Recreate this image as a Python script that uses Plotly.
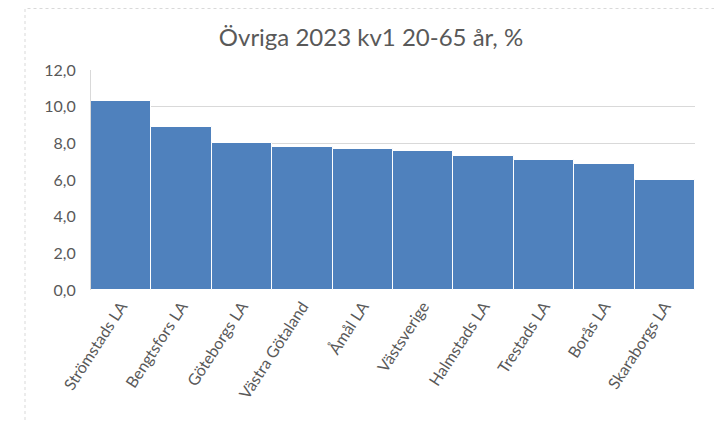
import plotly.graph_objects as go

categories = ["Strömstads LA", "Bengtsfors LA", "Göteborgs LA", "Västra Götaland", "Åmål LA",
              "Västsverige", "Halmstads LA", "Trestads LA", "Borås LA", "Skaraborgs LA"]
values = [10.3, 8.9, 8.0, 7.8, 7.7, 7.6, 7.3, 7.1, 6.9, 6.0]
y_ticks = [0, 2, 4, 6, 8, 10, 12]
title_text = "Övriga 2023 kv1 20-65 år, %"

# page body has an 8px default margin; figure sized to fit the window
OFF = 8
W, H = 722 - OFF, 421 - OFF
L, R, T, B = 91 - OFF, 695 - OFF, 70 - OFF, 290 - OFF

txt = "#595959"
grid = "#D9D9D9"

fig = go.Figure(go.Bar(
    x=categories, y=values,
    marker=dict(color="#4F81BD", line=dict(color="white", width=1)),
))

def px(xp):
    return (xp - OFF - L) / (R - L)

def py(yp):
    return (B - (yp - OFF)) / (B - T)

shapes = [
    dict(type="rect", xref="paper", yref="paper", x0=px(25), x1=px(718), y0=py(440), y1=py(8.5),
         line=dict(color=grid, width=1, dash="dot"), fillcolor="rgba(0,0,0,0)", layer="below"),
]

fig.update_layout(
    width=W, height=H,
    margin=dict(l=L, r=W - R, t=T, b=H - B, pad=0, autoexpand=False),
    paper_bgcolor="white", plot_bgcolor="white",
    bargap=0,
    separators=",.",
    showlegend=False,
    font=dict(family="Lato, Open Sans, sans-serif", color=txt),
    title=dict(text=title_text, x=(371 - OFF) / W, xanchor="center", xref="container",
               y=1 - (38 - OFF) / H, yanchor="middle", yref="container",
               font=dict(size=24, color=txt, family="Lato, sans-serif")),
    shapes=shapes,
)
fig.update_yaxes(range=[0, 12], tickvals=y_ticks, tickformat=".1f", automargin=False,
                 showgrid=True, gridcolor=grid, gridwidth=1,
                 showline=True, linecolor=grid, linewidth=1,
                 zeroline=False, ticks="", ticklabelstandoff=11,
                 tickfont=dict(size=16, color=txt))
fig.update_xaxes(tickangle=-57, showline=False, showgrid=False, ticks="", automargin=False,
                 tickfont=dict(size=16, color=txt), ticklabelstandoff=3)

fig.write_html("out.html")
